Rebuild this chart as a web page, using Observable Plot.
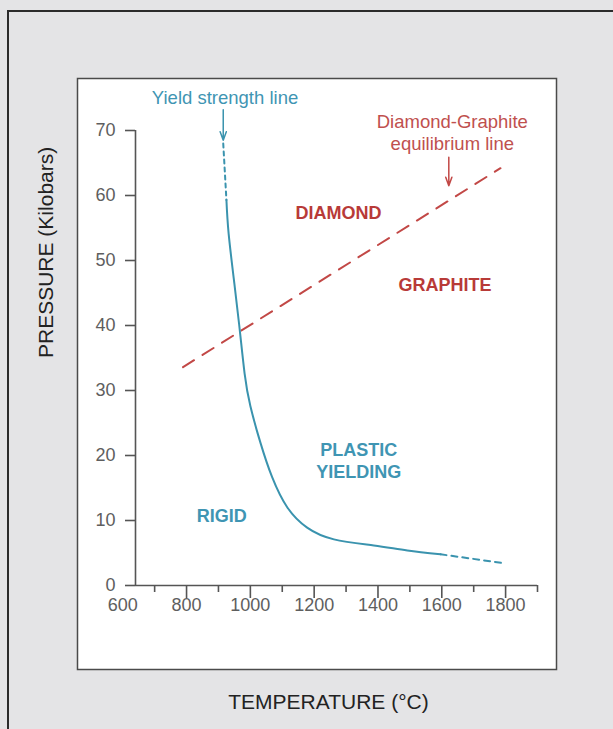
<!DOCTYPE html>
<html><head><meta charset="utf-8">
<script src="https://cdn.jsdelivr.net/npm/d3@7"></script>
<script src="https://cdn.jsdelivr.net/npm/@observablehq/plot@0.6"></script>
<style>
html,body{margin:0;padding:0;}
body{width:613px;height:729px;overflow:hidden;background:#e4e4e6;position:relative;font-family:"Liberation Sans",Arial,sans-serif;}
#edge{position:absolute;left:7px;top:10px;right:-20px;bottom:-20px;border-left:2px solid #2b2b2b;border-top:2px solid #2b2b2b;}
#chart{position:absolute;left:0;top:0;}
</style></head><body><div id="edge"></div><div id="chart"></div>
<script>
// Scales / ticks
const xDomain = [640, 1900];
const yDomain = [0, 70];
const xMajorTicks = [800, 1000, 1200, 1400, 1600, 1800];
const xMinorTicks = [700, 900, 1100, 1300, 1500, 1700, 1900];
const xTickLabels = [600, 800, 1000, 1200, 1400, 1600, 1800];
const yTicks = [0, 10, 20, 30, 40, 50, 60, 70];

// Yield strength line (solid part) — temperature (°C), pressure (kbar)
const yieldT = [925, 932, 950, 967, 982, 1000, 1032, 1068, 1116, 1178, 1262, 1387, 1492, 1596];
const yieldP = [59.3, 54.1, 46.4, 39.2, 32.6, 27.6, 21.9, 16.7, 12.0, 8.9, 7.1, 6.15, 5.4, 4.8];
// Dashed extrapolations of the yield line
const yieldTopT = [915, 925];
const yieldTopP = [68.0, 59.3];
const yieldTailT = [1596, 1800];
const yieldTailP = [4.8, 3.4];
// Diamond-graphite equilibrium line
const eqT = [789, 1784];
const eqP = [33.6, 64.2];

// Annotations
const noteText = ["Yield strength line", "Diamond-Graphite\nequilibrium line"];
const noteT = [920.6, 1633];
const noteP = [75.1, 69.8];
const noteKind = ["yield", "eq"];
const regionText = ["DIAMOND", "GRAPHITE", "PLASTIC\nYIELDING", "RIGID"];
const regionT = [1276, 1610, 1340, 910.5];
const regionP = [57.5, 46.4, 19.3, 10.85];
const regionKind = ["eq", "eq", "yield", "yield"];
const arrowT = [915, 1622];
const arrowFromP = [73.2, 65.9];
const arrowToP = [68.5, 61.5];
const arrowKind = ["yield", "eq"];

const xLabel = "TEMPERATURE (°C)";
const yLabel = "PRESSURE (Kilobars)";

// styles
const TEAL = "#3a93ae", TEAL_TXT = "#3f95b3";
const RED = "#c24846", RED_BOLD = "#b83a38", RED_TXT = "#c0504e";
const AX = "#555", AXT = "#5e5e5e";
const FONT = "'Liberation Sans', Arial, Helvetica, sans-serif";

const pts = (T, P) => T.map((t, i) => ({t, p: P[i]}));
const notes = noteText.map((s, i) => ({s, t: noteT[i], p: noteP[i], k: noteKind[i]}));
const regions = regionText.map((s, i) => ({s, t: regionT[i], p: regionP[i], k: regionKind[i]}));
const arrows = arrowT.map((t, i) => ({t, p1: arrowFromP[i], p2: arrowToP[i], k: arrowKind[i]}));

const chart = Plot.plot({
  width: 613,
  height: 729,
  marginLeft: 135,
  marginRight: 76,
  marginTop: 130,
  marginBottom: 144,
  style: {background: "transparent", fontFamily: FONT, overflow: "visible"},
  x: {domain: xDomain, axis: null},
  y: {domain: yDomain, axis: null},
  marks: [
    Plot.frame({fill: "white", stroke: "#4a4a4a", strokeWidth: 1.5,
      insetLeft: -58, insetRight: -19, insetTop: -52, insetBottom: -84}),
    // axis lines
    Plot.ruleX([xDomain[0]], {y1: yDomain[0], y2: yDomain[1], stroke: AX, strokeWidth: 1.6}),
    Plot.ruleY([yDomain[0]], {x1: xDomain[0], x2: xDomain[1], stroke: AX, strokeWidth: 1.6}),
    // y ticks and labels
    Plot.axisY(yTicks, {tickSize: 10, stroke: AX, strokeWidth: 1.6, fill: "none", label: null}),
    Plot.text(yTicks, {y: d => d, text: d => String(d), frameAnchor: "left", dx: -20, textAnchor: "end",
      fontSize: 18, fill: AXT}),
    // x ticks
    Plot.axisX(xMajorTicks, {tickSize: 13, stroke: AX, strokeWidth: 1.6, fill: "none", label: null}),
    Plot.axisX(xMinorTicks, {tickSize: 7, stroke: AX, strokeWidth: 1.6, fill: "none", label: null}),
    Plot.text(xTickLabels, {x: d => d, text: d => String(d), frameAnchor: "bottom", dy: 25, fontSize: 18, fill: AXT}),
    // axis titles
    Plot.text([xLabel], {frameAnchor: "bottom", dx: -8, dy: 123, fontSize: 21, fill: "#222"}),
    Plot.text([yLabel], {frameAnchor: "left", dx: -89.5, rotate: -90, fontSize: 21, fill: "#222"}),
    // equilibrium line
    Plot.line(pts(eqT, eqP), {x: "t", y: "p", stroke: RED, strokeWidth: 2, strokeDasharray: "13,10"}),
    // yield strength line
    Plot.line(pts(yieldT, yieldP), {x: "t", y: "p", curve: "natural", stroke: TEAL, strokeWidth: 2}),
    Plot.line(pts(yieldTopT, yieldTopP), {x: "t", y: "p", stroke: TEAL, strokeWidth: 2, strokeDasharray: "4,4"}),
    Plot.line(pts(yieldTailT, yieldTailP), {x: "t", y: "p", stroke: TEAL, strokeWidth: 2, strokeDasharray: "6,5"}),
    // arrows
    Plot.arrow(arrows, {x: "t", y1: "p1", y2: "p2", stroke: d => d.k === "yield" ? TEAL : RED,
      strokeWidth: 1.5, headAngle: 40, headLength: 9}),
    // notes
    Plot.text(notes, {x: "t", y: "p", text: "s", fontSize: 18.5, lineHeight: 1.17,
      fill: d => d.k === "yield" ? TEAL_TXT : RED_TXT}),
    Plot.text(regions, {x: "t", y: "p", text: "s", fontSize: 18, fontWeight: "bold", lineHeight: 1.25,
      fill: d => d.k === "yield" ? TEAL_TXT : RED_BOLD})
  ]
});
document.getElementById("chart").appendChild(chart);
</script>
</body></html>
